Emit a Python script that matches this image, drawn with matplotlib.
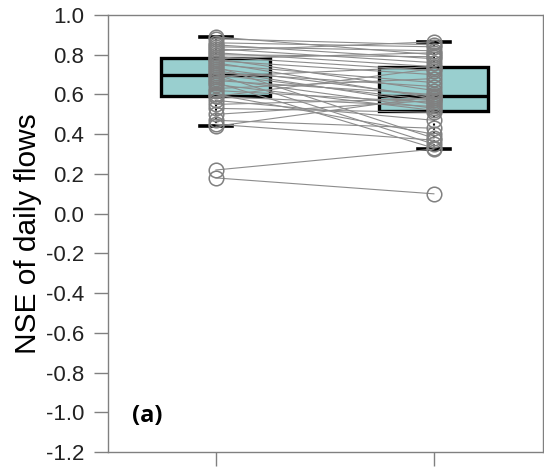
import matplotlib
matplotlib.use('Agg')
import matplotlib.pyplot as plt
import numpy as np

#################################################
# Data: paired NSE values per catchment (model 1, model 2).
nse_1 = [0.89, 0.88, 0.86, 0.85, 0.84, 0.83, 0.82, 0.81, 0.80, 0.79,
         0.78, 0.78, 0.77, 0.76, 0.75, 0.74, 0.73, 0.72, 0.71, 0.70,
         0.70, 0.69, 0.68, 0.67, 0.66, 0.65, 0.63, 0.62, 0.60, 0.59,
         0.59, 0.57, 0.55, 0.53, 0.50, 0.47, 0.45, 0.44, 0.22, 0.18]
nse_2 = [0.80, 0.85, 0.84, 0.78, 0.82, 0.76, 0.865, 0.74, 0.79, 0.72,
         0.81, 0.62, 0.70, 0.58, 0.66, 0.38, 0.59, 0.55, 0.64, 0.35,
         0.57, 0.74, 0.53, 0.60, 0.33, 0.52, 0.68, 0.56, 0.40, 0.73,
         0.54, 0.47, 0.58, 0.51, 0.57, 0.43, 0.37, 0.59, 0.325, 0.10]

positions = [1, 2]
y_ticks = np.round(np.arange(-1.2, 1.01, 0.2), 1)
y_labels = ['{:.1f}'.format(v + 0.0) if abs(v) > 1e-9 else '0.0' for v in y_ticks]

#################################################
# Display.
plt.rcParams['font.family'] = ['Liberation Sans', 'DejaVu Sans']

fig = plt.figure(figsize=(5.44, 4.69), dpi=100)
ax = fig.add_axes([0.1985, 0.036, 0.7995, 0.932])

ax.boxplot([nse_1, nse_2], positions=positions, widths=0.5,
           patch_artist=True, showfliers=False,
           boxprops=dict(facecolor='#99cfcf', edgecolor='black', linewidth=2.4),
           medianprops=dict(color='black', linewidth=2.4),
           whiskerprops=dict(color='black', linewidth=1.5, linestyle=(0, (1, 1))),
           capprops=dict(color='black', linewidth=2.6),
           capwidths=0.15, zorder=1)

for a, b in zip(nse_1, nse_2):
    ax.plot(positions, [a, b], color='#8c8c8c', linewidth=0.8, zorder=2)

ax.plot([1] * len(nse_1), nse_1, linestyle='none', marker='o', markersize=10.5,
        markerfacecolor='none', markeredgecolor='#808080', markeredgewidth=1.1, zorder=3)
ax.plot([2] * len(nse_2), nse_2, linestyle='none', marker='o', markersize=10.5,
        markerfacecolor='none', markeredgecolor='#808080', markeredgewidth=1.1, zorder=3)

ax.set_xlim(0.505, 2.5)
ax.set_ylim(-1.2, 1.0)
ax.set_xticks(positions)
ax.set_xticklabels(['', ''])
ax.set_yticks(y_ticks)
ax.set_yticklabels(y_labels)

for side in ['left', 'right', 'top', 'bottom']:
    ax.spines[side].set_color('#808080')
    ax.spines[side].set_linewidth(1.0)
ax.tick_params(axis='both', direction='out', length=10, width=1.0,
               color='#808080', pad=7, labelcolor='#222222', labelsize=16)

ax.set_ylabel('NSE of daily flows', fontsize=21.5, labelpad=3)

ax.text(0.055, 0.082, '(a)', transform=ax.transAxes, fontsize=17,
        fontweight='bold', family=['Open Sans'], va='center', ha='left')

fig.savefig('out.png', dpi=100)
